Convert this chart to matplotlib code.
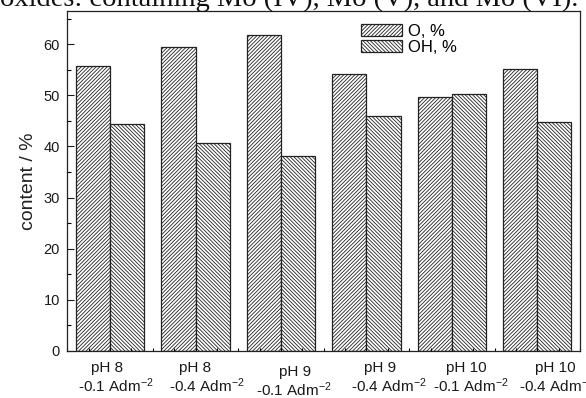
#! /bin/python3

# O / OH content bar chart, hatched bars in the Origin style

import matplotlib
matplotlib.use("Agg")
import matplotlib.pyplot as plt
import numpy as np

# data
groups = ["pH 8", "pH 8", "pH 9", "pH 9", "pH 10", "pH 10"]
currents = ["-0.1 Adm$^{-2}$", "-0.4 Adm$^{-2}$", "-0.1 Adm$^{-2}$",
            "-0.4 Adm$^{-2}$", "-0.1 Adm$^{-2}$", "-0.4 Adm$^{-2}$"]
o_content = [55.7, 59.4, 61.8, 54.1, 49.7, 55.2]
oh_content = [44.3, 40.6, 38.2, 45.9, 50.3, 44.8]

# label layout (shifts in group units, the labels were placed by hand)
line1_dx = [-0.03, 0.0, 0.16, 0.155, 0.17, 0.205]
line2_dx = [0.07, 0.135, 0.15, 0.265, 0.22, 0.23]
line_drop = [0, 0, 3, 0, 0, 0]

plt.rcParams['font.family'] = ['Liberation Sans', 'DejaVu Sans']
plt.rcParams['mathtext.default'] = 'regular'
plt.rcParams['hatch.linewidth'] = 0.6
plt.rcParams['hatch.color'] = '#111111'

fig = plt.figure(figsize=(5.86, 3.98), dpi=100)
ax = fig.add_axes([0.1143, 0.1181, 0.8755, 0.8543])

x = np.arange(1, len(groups) + 1)
w = 0.4
ax.bar(x - w / 2, o_content, w, facecolor='white', edgecolor='#222222',
       linewidth=0.9, hatch='/' * 9, label='O, %')
ax.bar(x + w / 2, oh_content, w, facecolor='white', edgecolor='#222222',
       linewidth=0.9, hatch='\\' * 9, label='OH, %')

ax.set_xlim(0.495, 6.5)
ax.set_ylim(0, 66.5)
ax.set_yticks(np.arange(0, 61, 10))
ax.set_yticks(np.arange(5, 66, 10), minor=True)
ax.set_xticks(np.arange(0.5, 6.6, 0.5))
ax.set_xticks(np.arange(0.75, 6.5, 0.5), minor=True)
ax.set_xticklabels([])
ax.tick_params(axis='y', which='major', direction='in', length=5, width=0.8,
               labelsize=10.5, colors='#1a1a1a', pad=5)
ax.tick_params(axis='y', which='minor', direction='in', length=3, width=0.8)
ax.tick_params(axis='x', which='both', direction='in', length=2.5, width=0.8)
for s in ax.spines.values():
    s.set_linewidth(0.9)
    s.set_color('#222222')

ax.set_ylabel('content / %', fontsize=14, color='#222222', labelpad=5)

# two-line category labels under each group
for i in range(len(groups)):
    ax.annotate(groups[i], xy=(x[i] + line1_dx[i], 0), xycoords=('data', 'axes fraction'),
                xytext=(0, -15.1 - line_drop[i]), textcoords='offset points',
                ha='center', va='baseline', fontsize=11, color='#1a1a1a',
                annotation_clip=False)
    ax.annotate(currents[i], xy=(x[i] + line2_dx[i], 0), xycoords=('data', 'axes fraction'),
                xytext=(0, -29.5 - line_drop[i]), textcoords='offset points',
                ha='center', va='baseline', fontsize=11, color='#1a1a1a',
                annotation_clip=False)

ax.legend(loc='upper left', bbox_to_anchor=(0.573, 0.962), frameon=False,
          fontsize=12, handlelength=2.45, handleheight=0.74, handletextpad=0.35,
          labelspacing=0.04, borderpad=0, borderaxespad=0)

# caption line from the page above, cut by the crop
fig.text(0.0, 0.986, 'oxides: containing Mo (IV), Mo (V), and Mo (VI).',
         family=['Liberation Serif', 'DejaVu Serif'], fontsize=20.5,
         ha='left', va='baseline', color='#111111')

plt.savefig('out.png', dpi=100)
